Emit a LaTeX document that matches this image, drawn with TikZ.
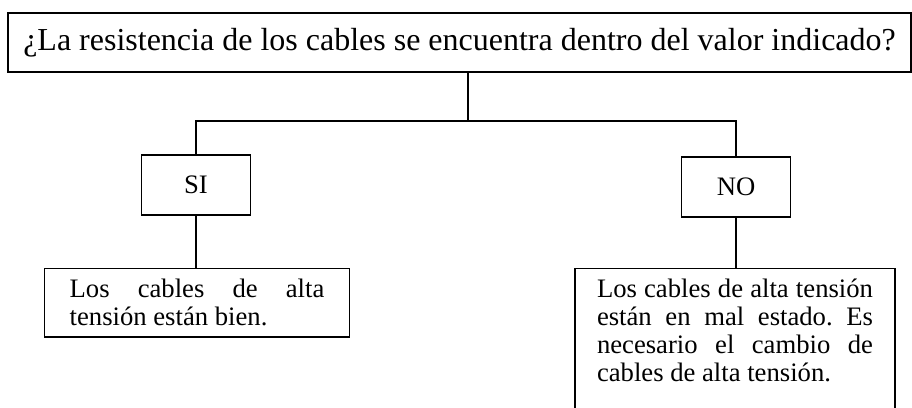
\documentclass[tikz,border=0pt]{standalone}
\usepackage{fontspec}
\setmainfont{Liberation Serif}
\usetikzlibrary{positioning, calc}
\hbadness=10000
\begin{document}
\frenchspacing
\begin{tikzpicture}[
x=0.75pt, y=-0.75pt,
box/.style={draw, line width=1.1pt, inner sep=0pt, align=center, font=\fontsize{20}{21}\selectfont},
answer/.style={box, minimum width=82pt, minimum height=45pt},
result/.style={box, align=justify, inner xsep=19pt, inner ysep=8pt, anchor=north},
link/.style={line width=0.8pt}
]
\useasboundingbox (0,0) rectangle (912,407);
\clip (0,0) rectangle (912,407);
\node[box, minimum width=677pt, minimum height=44pt, font=\fontsize{24}{26}\selectfont] (question) at (459.5,42.5) {¿La resistencia de los cables se encuentra dentro del valor indicado?};
\node[answer] (si) at (196,185) {SI};
\node[answer] (no) at (736,187) {NO};
\node[result, text width=191pt] (si-text) at (197,268) {Los cables de alta\linebreak tensión están bien.};
\node[result, text width=207pt, inner xsep=16.5pt] (no-text) at (735,268) {Los cables de alta tensión\linebreak están en mal estado. Es\linebreak necesario el cambio de\linebreak cables de alta tensión.\\[40pt]};
\coordinate (fork) at (468,121);
\draw[link] (question.south -| fork) -- (fork);
\draw[link] (si.north) |- (fork) -| (no.north);
\draw[link] (si.south) -- (si.south |- si-text.north);
\draw[link] (no.south) -- (no.south |- no-text.north);
\end{tikzpicture}
\end{document}
